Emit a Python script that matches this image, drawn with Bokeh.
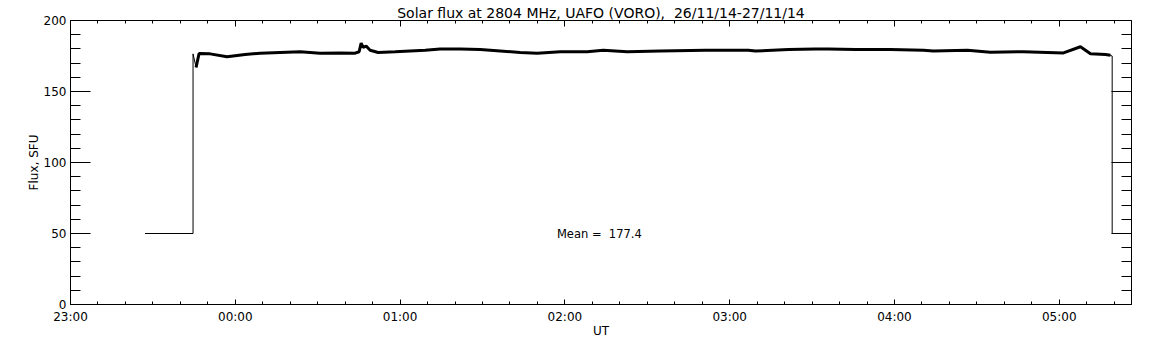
import pandas as pd
from bokeh.plotting import figure
from bokeh.models import (Range1d, FixedTicker, DatetimeTickFormatter, DatetimeAxis,
                          LinearAxis, Label, CustomJSTickFormatter)
from bokeh.embed import file_html
from bokeh.resources import INLINE

# ---------------- data ----------------
title_text = "Solar flux at 2804 MHz, UAFO (VORO), \u00a026/11/14-27/11/14"
mean_flux = 177.4

# quiet level before the record starts
pre_times = ["2014-11-26 23:27:08", "2014-11-26 23:44:37"]
pre_flux = [50, 50]

# flux record
rec_times = [
    "2014-11-26 23:44:37", "2014-11-26 23:45:43", "2014-11-26 23:46:49", "2014-11-26 23:50:49",
    "2014-11-26 23:57:00", "2014-11-27 00:03:34", "2014-11-27 00:09:02", "2014-11-27 00:16:19",
    "2014-11-27 00:23:36", "2014-11-27 00:30:53", "2014-11-27 00:38:10", "2014-11-27 00:43:38",
    "2014-11-27 00:45:05", "2014-11-27 00:45:49", "2014-11-27 00:46:33", "2014-11-27 00:47:38",
    "2014-11-27 00:49:06", "2014-11-27 00:52:01", "2014-11-27 00:58:12", "2014-11-27 01:03:40",
    "2014-11-27 01:09:08", "2014-11-27 01:14:35", "2014-11-27 01:21:53", "2014-11-27 01:29:10",
    "2014-11-27 01:36:27", "2014-11-27 01:43:44", "2014-11-27 01:49:56", "2014-11-27 01:58:18",
    "2014-11-27 02:08:08", "2014-11-27 02:13:58", "2014-11-27 02:22:43", "2014-11-27 02:34:44",
    "2014-11-27 02:51:07", "2014-11-27 03:06:47", "2014-11-27 03:09:20", "2014-11-27 03:21:22",
    "2014-11-27 03:31:11", "2014-11-27 03:35:56", "2014-11-27 03:45:46", "2014-11-27 03:58:31",
    "2014-11-27 04:10:32", "2014-11-27 04:14:10", "2014-11-27 04:26:34", "2014-11-27 04:34:56",
    "2014-11-27 04:46:58", "2014-11-27 05:01:32", "2014-11-27 05:07:43", "2014-11-27 05:11:22",
    "2014-11-27 05:16:50", "2014-11-27 05:18:39", "2014-11-27 05:19:16",
]
rec_flux = [
    176.5, 167.0, 176.8, 176.5,
    174.5, 176.0, 177.0, 177.5,
    178.0, 177.0, 177.2, 177.0,
    178.0, 184.0, 181.0, 182.0,
    179.0, 177.5, 178.0, 178.5,
    179.0, 180.0, 180.0, 179.5,
    178.5, 177.5, 177.0, 178.0,
    178.0, 179.0, 178.0, 178.5,
    179.0, 179.0, 178.5, 179.5,
    180.0, 180.0, 179.5, 179.5,
    179.0, 178.5, 179.0, 177.7,
    178.0, 177.2, 181.5, 176.6,
    176.0, 175.5, 175.0,
]

# end of record: back to the quiet level
post_times = ["2014-11-27 05:19:16"]
post_flux = [50]

x_start = "2014-11-26 23:00:00"
x_end = "2014-11-27 05:26:18"
hour_ticks = ["2014-11-26 23:00", "2014-11-27 00:00", "2014-11-27 01:00", "2014-11-27 02:00",
              "2014-11-27 03:00", "2014-11-27 04:00", "2014-11-27 05:00"]
y_major = [0, 50, 100, 150, 200]
y_minor = [0, 10, 20, 30, 40, 50, 60, 70, 80, 90, 100, 110, 120, 130, 140, 150,
           160, 170, 180, 190, 200]
mean_label_time = "2014-11-27 01:57:06"


def to_ms(lst):
    return (pd.DatetimeIndex(pd.to_datetime(lst)).asi8 // 10**6).tolist()


all_t = to_ms(pre_times + rec_times + post_times)
all_f = pre_flux + rec_flux + post_flux
rec_t = to_ms(rec_times)

xs_ms = to_ms([x_start])[0]
xe_ms = to_ms([x_end])[0]
x_major = to_ms(hour_ticks)
x_minor = to_ms(pd.date_range(x_start, x_end, freq="10min"))

FONT = "DejaVu Sans"

p = figure(width=1152, height=345, x_axis_type="datetime", output_backend="svg",
           toolbar_location=None, x_range=Range1d(xs_ms, xe_ms), y_range=Range1d(0, 200),
           min_border_left=70, min_border_right=21, min_border_top=20, min_border_bottom=41)
p.outline_line_color = None
p.grid.visible = False
p.background_fill_color = "white"
p.border_fill_color = "white"

xticker = FixedTicker(ticks=x_major, minor_ticks=x_minor)
yticker = FixedTicker(ticks=y_major, minor_ticks=y_minor)
fmt = DatetimeTickFormatter(hours="%H:%M", hourmin="%H:%M", minutes="%H:%M",
                            minsec="%H:%M", days="%H:%M")
blank = CustomJSTickFormatter(code="return ''")

xa = p.xaxis[0]
xa.ticker = xticker
xa.formatter = fmt
xa.major_tick_in = 5
xa.major_tick_out = 0
xa.minor_tick_in = 3
xa.minor_tick_out = 0
xa.major_label_standoff = 5
xa.major_label_text_font = FONT
xa.major_label_text_font_size = "12px"
xa.major_label_text_color = "black"
xa.axis_line_color = "black"
xa.axis_label = "UT"
xa.axis_label_text_font = FONT
xa.axis_label_text_font_size = "12px"
xa.axis_label_text_font_style = "normal"
xa.axis_label_text_color = "black"
xa.axis_label_standoff = -3

ya = p.yaxis[0]
ya.ticker = yticker
ya.major_tick_in = 20
ya.major_tick_out = 0
ya.minor_tick_in = 10
ya.minor_tick_out = 0
ya.major_label_standoff = 4
ya.major_label_text_font = FONT
ya.major_label_text_font_size = "12px"
ya.major_label_text_color = "black"
ya.axis_label = "Flux, SFU"
ya.axis_label_text_font = FONT
ya.axis_label_text_font_size = "12px"
ya.axis_label_text_font_style = "normal"
ya.axis_label_text_color = "black"
ya.axis_label_standoff = 0
ya.axis_line_color = "black"

top = DatetimeAxis(ticker=xticker, formatter=blank, major_tick_in=6, major_tick_out=0,
                   minor_tick_in=3, minor_tick_out=0, major_label_standoff=0,
                   major_label_text_font_size="0px",
                   axis_line_color="black", axis_label=title_text,
                   axis_label_standoff=0, axis_label_text_font=FONT,
                   axis_label_text_font_size="14px", axis_label_text_font_style="normal",
                   axis_label_text_color="black")
p.add_layout(top, "above")
right = LinearAxis(ticker=yticker, formatter=blank, major_tick_in=20, major_tick_out=0,
                   minor_tick_in=10, minor_tick_out=0, major_label_standoff=0,
                   major_label_text_font_size="0px", axis_line_color="black")
p.add_layout(right, "right")

p.line(all_t, all_f, line_color="black", line_width=1)
p.line(rec_t[1:-1], rec_flux[1:-1], line_color="black", line_width=3)

p.add_layout(Label(x=to_ms([mean_label_time])[0], y=50,
                   text=f"Mean = \u00a0{mean_flux:.1f}", text_align="left",
                   text_baseline="alphabetic", text_font=FONT,
                   text_font_size="11.5px", text_color="black"))

open("out.html", "w").write(file_html(p, INLINE))
